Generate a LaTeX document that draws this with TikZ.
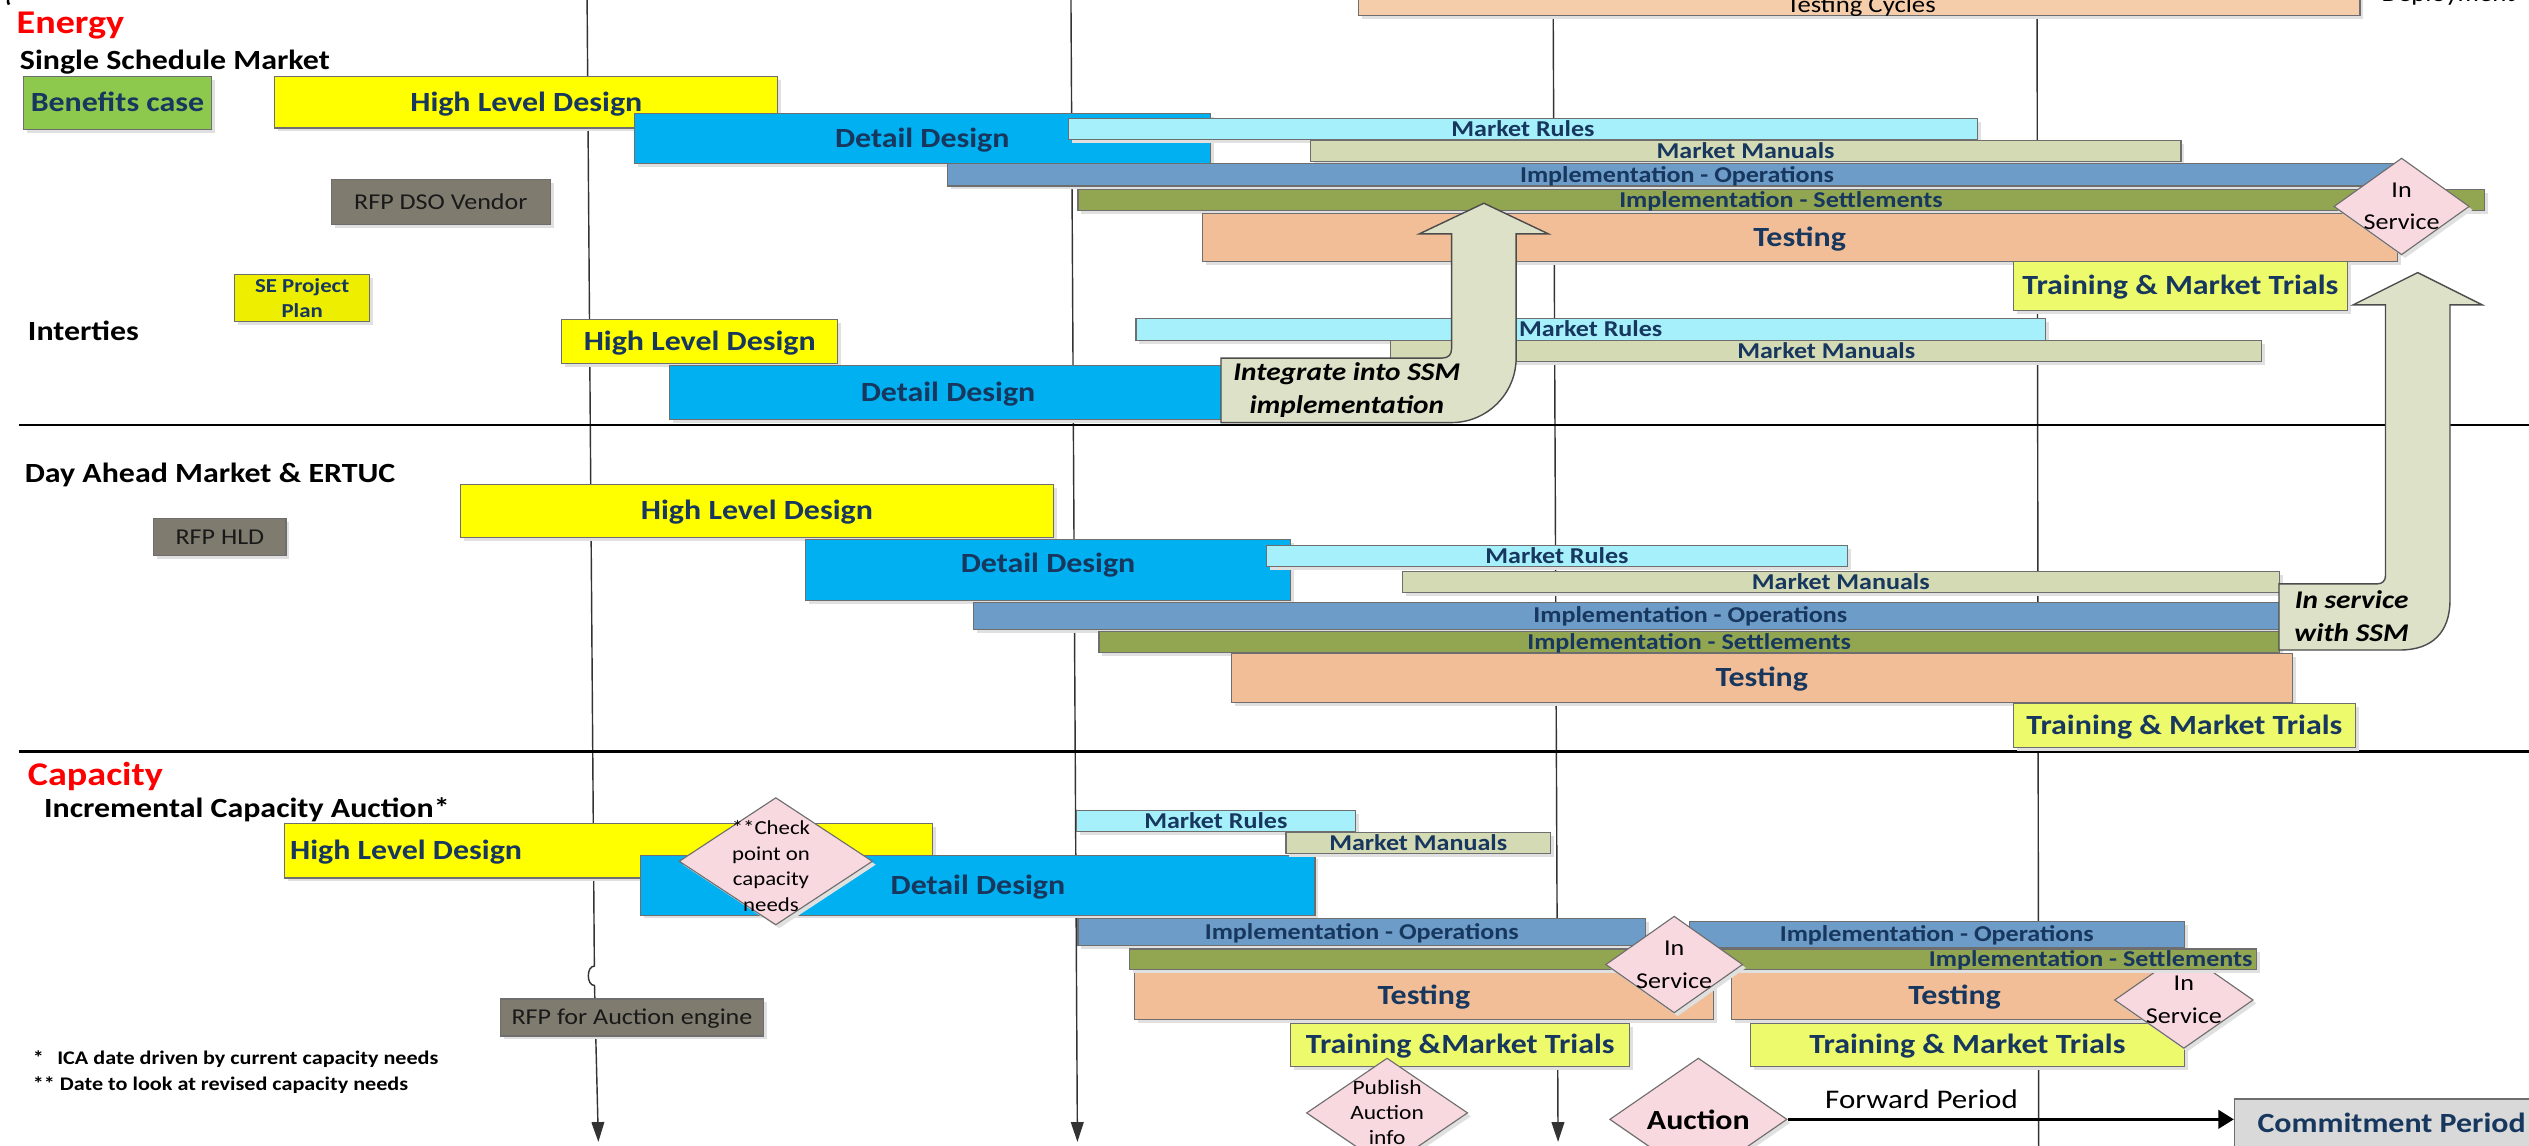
\documentclass[tikz,border=0pt]{standalone}
\usepackage{fontspec}
\setmainfont{Carlito}[FakeStretch=1.15]
\usetikzlibrary{shapes.geometric, shadows, arrows.meta}
\definecolor{navy}{HTML}{17375E}
\definecolor{benefit}{HTML}{8DC94C}
\definecolor{hld}{HTML}{FFFF00}
\definecolor{detail}{HTML}{00B0F0}
\definecolor{rules}{HTML}{A5F0FA}
\definecolor{manuals}{HTML}{D4DBB4}
\definecolor{ops}{HTML}{6C9CC7}
\definecolor{settle}{HTML}{92A551}
\definecolor{testing}{HTML}{F2BE97}
\definecolor{cycles}{HTML}{F5CDAA}
\definecolor{trials}{HTML}{EDFA6C}
\definecolor{planyellow}{HTML}{EEEE00}
\definecolor{rfpgray}{HTML}{7F7B6F}
\definecolor{mspink}{HTML}{F9D9E0}
\definecolor{bend}{HTML}{DDE1C8}
\definecolor{commit}{HTML}{D9D9D9}
\definecolor{edge}{HTML}{6E6E6E}

\begin{document}
\begin{tikzpicture}[x=0.02cm, y=-0.02cm,
    bigtxt/.style={text=navy, inner sep=0pt, font=\fontsize{9.8}{11}\selectfont\bfseries, text height=6.3pt, text depth=0pt},
    thintxt/.style={text=navy, inner sep=0pt, font=\fontsize{8}{9}\selectfont\bfseries, text height=5.2pt, text depth=0pt},
    bar/.style={draw=edge, line width=0.4pt, anchor=north west, inner sep=0pt,
      drop shadow={shadow xshift=1.2pt, shadow yshift=-1.2pt, fill=black!12, opacity=1}},
    bigbar/.style={bar, bigtxt},
    thinbar/.style={bar, thintxt},
    rfpbox/.style={bar, fill=rfpgray, text=black!90, font=\fontsize{8}{9}\selectfont, text height=5.2pt, text depth=0pt},
    milestone/.style={diamond, draw=edge, line width=0.4pt, fill=mspink, inner sep=0pt,
      drop shadow={shadow xshift=1.2pt, shadow yshift=-1.2pt, fill=black!12, opacity=1}},
    mstext/.style={align=center, inner sep=0pt, font=\fontsize{8}{11.5}\selectfont},
    heading/.style={anchor=base west, inner sep=0pt, text=red, font=\fontsize{11.7}{13}\selectfont\bfseries},
    stream/.style={anchor=base west, inner sep=0pt, font=\fontsize{9.8}{12}\selectfont\bfseries},
    note/.style={anchor=base west, inner sep=0pt, font=\fontsize{6.8}{8}\selectfont\bfseries},
    bendarrow/.style={draw=black!70, line width=0.5pt, fill=bend},
    bendtext/.style={align=center, inner sep=0pt, font=\fontsize{9}{11.5}\selectfont\bfseries\itshape},
    timeline/.style={black!80, line width=0.5pt, -{Triangle[length=7pt, width=4.5pt]}},
    forward/.style={black, line width=1.1pt, -{Triangle[length=5.5pt, width=6.5pt]}},
    divider/.style={black, line width=1pt}]

    \clip (0,0) rectangle (1568,710);

    % time lines and section dividers
    \coordinate (t1top) at (364,0);   \coordinate (t1end) at (371,708);
    \coordinate (t2top) at (664,0);   \coordinate (t2end) at (668,708);
    \coordinate (t3top) at (963,10);  \coordinate (t3end) at (966,708);
    \coordinate (t4top) at (1263,10); \coordinate (t4end) at (1264,712);
    \draw[timeline] (t1top) -- (368.5,599) .. controls (363.5,599) and (363.5,611) .. (368.6,611) -- (t1end);
    \draw[timeline] (t2top) -- (t2end);
    \draw[timeline] (t3top) -- (t3end);
    \draw[black!80, line width=0.5pt] (t4top) -- (t4end);

    \coordinate (d1l) at (12,263.5); \coordinate (d1r) at (1568,263.5);
    \coordinate (d2l) at (12,466);   \coordinate (d2r) at (1568,466);
    \draw[divider] (d1l) -- (d1r);
    \draw[divider] (d2l) -- (d2r);

    % rows cut off at the top
    \node[bar, fill=cycles, anchor=south west, minimum width=12.42cm, minimum height=0.8cm] (cycles) at (842,10) {};
    \node[anchor=base, inner sep=0pt, font=\fontsize{8.2}{10}\selectfont] (cyclestxt) at (1154,8) {Testing Cycles};
    \node[anchor=base, inner sep=0pt, font=\fontsize{8.2}{10}\selectfont] (deploy) at (1518,1) {Deployment};
    \node[anchor=base west, inner sep=0pt, font=\fontsize{11}{12}\selectfont] (tick) at (2,12) {‘};

    % Energy - Single Schedule Market
    \node[heading] (energy) at (10,21) {Energy};
    \node[stream] (ssmtitle) at (12,43) {Single Schedule Market};
    \node[bigbar, fill=benefit, minimum width=2.34cm, minimum height=0.66cm] (ssmben) at (14,47) {Benefits case};
    \node[bigbar, fill=hld, minimum width=6.24cm, minimum height=0.64cm] (ssmhld) at (170,47) {High Level Design};
    \node[bigbar, fill=detail, minimum width=7.14cm, minimum height=0.62cm] (ssmdd) at (393,70) {Detail Design};
    \node[thinbar, fill=rules, minimum width=11.28cm, minimum height=0.26cm] (ssmmr) at (662,73) {Market Rules};
    \node[thinbar, fill=manuals, minimum width=10.8cm, minimum height=0.26cm] (ssmmm) at (812,87) {Market Manuals};
    \node[thinbar, fill=ops, minimum width=18.1cm, minimum height=0.28cm] (ssmops) at (587,101) {Implementation - Operations};
    \node[thinbar, fill=settle, minimum width=17.44cm, minimum height=0.26cm] (ssmset) at (668,117) {Implementation - Settlements};
    \node[bigbar, fill=testing, minimum width=14.82cm, minimum height=0.6cm] (ssmtest) at (745,132) {Testing};
    \node[bigbar, fill=trials, minimum width=4.14cm, minimum height=0.6cm] (ssmtrain) at (1248,162) {Training \& Market Trials};
    \node[rfpbox, minimum width=2.72cm, minimum height=0.56cm] (ssmrfp) at (205,111) {RFP DSO Vendor};
    \node[bar, fill=planyellow, minimum width=1.68cm, minimum height=0.58cm, align=center, text=navy,
      font=\fontsize{7}{8.7}\selectfont\bfseries] (seplan) at (145,170) {SE Project\\Plan};
    \node[milestone, minimum width=1.68cm, minimum height=1.2cm] (ssmins) at (1489,128) {};
    \node[mstext] (ssminstxt) at (ssmins) {In\\Service};

    % Interties
    \node[stream] (inttitle) at (17,211) {Interties};
    \node[bigbar, fill=hld, minimum width=3.42cm, minimum height=0.54cm] (inthld) at (348,198) {High Level Design};
    \node[bigbar, fill=detail, minimum width=6.9cm, minimum height=0.68cm] (intdd) at (415,226) {Detail Design};
    \node[thinbar, fill=rules, minimum width=11.28cm, minimum height=0.28cm] (intmr) at (704,197) {Market Rules};
    \node[thinbar, fill=manuals, minimum width=10.8cm, minimum height=0.26cm] (intmm) at (862,211) {Market Manuals};
    \draw[bendarrow] (757,222) -- (894,222) .. controls (898,222) and (900,220) .. (900,216)
      -- (900,145) -- (880,145) -- (920,126) -- (960,145) -- (940,145) -- (940,222)
      .. controls (940,244) and (922,262) .. (900,262) -- (757,262) -- cycle;
    \node[bendtext] (integrate) at (835,242) {Integrate into SSM\\implementation};

    % Day Ahead Market & ERTUC
    \node[stream] (damtitle) at (15,299) {Day Ahead Market \& ERTUC};
    \node[rfpbox, minimum width=1.64cm, minimum height=0.46cm] (damrfp) at (95,321) {RFP HLD};
    \node[bigbar, fill=hld, minimum width=7.36cm, minimum height=0.66cm] (damhld) at (285,300) {High Level Design};
    \node[bigbar, fill=detail, minimum width=6.02cm, minimum height=0.76cm, text depth=4.6pt] (damdd) at (499,334) {Detail Design};
    \node[thinbar, fill=rules, minimum width=7.2cm, minimum height=0.26cm] (dammr) at (785,338) {Market Rules};
    \node[thinbar, fill=manuals, minimum width=10.88cm, minimum height=0.26cm] (dammm) at (869,354) {Market Manuals};
    \node[thinbar, fill=ops, minimum width=16.2cm, minimum height=0.34cm] (damops) at (603,373) {};
    \node[thintxt] (damopstxt) at (1048,381.5) {Implementation - Operations};
    \node[thinbar, fill=settle, minimum width=14.64cm, minimum height=0.26cm] (damset) at (681,391) {Implementation - Settlements};
    \node[bigbar, fill=testing, minimum width=13.16cm, minimum height=0.6cm] (damtest) at (763,405) {Testing};
    \node[bigbar, fill=trials, minimum width=4.24cm, minimum height=0.54cm] (damtrain) at (1248,436) {Training \& Market Trials};
    \draw[bendarrow] (1413,362) -- (1474,362) .. controls (1477,362) and (1479,360) .. (1479,357)
      -- (1479,189) -- (1459,189) -- (1499,169) -- (1539,189) -- (1519,189) -- (1519,372)
      .. controls (1519,392) and (1508,403) .. (1488,403) -- (1413,403) -- cycle;
    \node[bendtext] (inservice) at (1458,382) {In service\\with SSM};

    % Capacity - Incremental Capacity Auction
    \node[heading] (capacity) at (17,487) {Capacity};
    \node[stream] (icatitle) at (27,507) {Incremental Capacity Auction*};
    \node[bigbar, fill=hld, minimum width=8.04cm, minimum height=0.68cm] (caphld) at (176,510) {};
    \node[bigtxt, anchor=west] (caphldtxt) at ([xshift=2pt]caphld.west) {High Level Design};
    \node[bigbar, fill=detail, minimum width=8.36cm, minimum height=0.74cm] (capdd) at (397,530) {Detail Design};
    \node[milestone, minimum width=2.4cm, minimum height=1.58cm] (check) at (481,534) {};
    \node[align=center, inner sep=0pt, font=\fontsize{7}{9}\selectfont] (checktxt) at (478,537) {**Check\\point on\\capacity\\needs};
    \node[thinbar, fill=rules, minimum width=3.46cm, minimum height=0.26cm] (capmr) at (667,502) {Market Rules};
    \node[thinbar, fill=manuals, minimum width=3.28cm, minimum height=0.26cm] (capmm) at (797,516) {Market Manuals};
    \node[thinbar, fill=ops, minimum width=7.04cm, minimum height=0.34cm] (capops1) at (668,569) {Implementation - Operations};
    \node[thinbar, fill=ops, minimum width=6.14cm, minimum height=0.32cm] (capops2) at (1047,571) {Implementation - Operations};
    \node[bigbar, fill=testing, minimum width=7.18cm, minimum height=0.6cm] (captest1) at (703,602) {Testing};
    \node[bigbar, fill=testing, minimum width=5.54cm, minimum height=0.6cm] (captest2) at (1073,602) {Testing};
    \node[bigbar, fill=trials, minimum width=4.2cm, minimum height=0.54cm] (captrain1) at (800,634) {Training \&Market Trials};
    \node[bigbar, fill=trials, minimum width=5.38cm, minimum height=0.54cm] (captrain2) at (1085,634) {Training \& Market Trials};
    \node[milestone, minimum width=1.72cm, minimum height=1.2cm] (capins2) at (1354,620) {};
    \node[mstext] (capins2txt) at (capins2) {In\\Service};
    \node[thinbar, fill=settle, minimum width=13.98cm, minimum height=0.26cm] (capset) at (700,588) {};
    \node[thintxt, anchor=east] (capsettxt) at ([xshift=-1.5pt]capset.east) {Implementation - Settlements};
    \node[milestone, minimum width=1.7cm, minimum height=1.2cm] (capins1) at (1038,598) {};
    \node[mstext] (capins1txt) at (capins1) {In\\Service};
    \node[rfpbox, minimum width=3.26cm, minimum height=0.46cm] (caprfp) at (310,619) {RFP for Auction engine};

    % auction and commitment
    \node[milestone, minimum width=2cm, minimum height=1.36cm] (publish) at (860,690) {};
    \node[align=center, inner sep=0pt, font=\fontsize{7.2}{8.8}\selectfont] (publishtxt) at (publish) {Publish\\Auction\\info};
    \node[milestone, minimum width=2.2cm, minimum height=1.48cm, font=\fontsize{9.8}{11}\selectfont\bfseries] (auction) at (1053,694) {Auction};
    \node[bigbar, fill=commit, minimum width=3.9cm, minimum height=0.6cm] (commit) at (1385,681) {Commitment Period};
    \draw[forward] (auction.east) -- (auction.east -| commit.west)
      node[pos=0.3, above, font=\fontsize{9.5}{11}\selectfont] (fwdtxt) {Forward Period};

    % footnotes
    \node[note] (note1) at (20,660) {*\hspace{0.7em}ICA date driven by current capacity needs};
    \node[note] (note2) at (20,676) {** Date to look at revised capacity needs};
\end{tikzpicture}
\end{document}
